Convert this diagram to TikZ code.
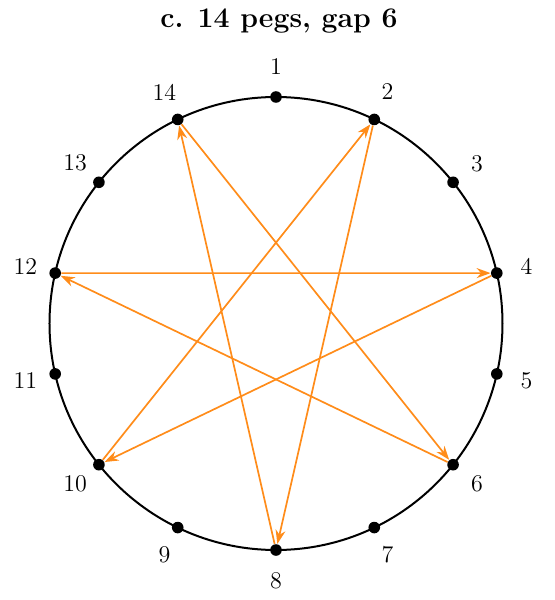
\documentclass[tikz,border=0pt]{standalone}
\usetikzlibrary{arrows.meta}
\definecolor{chord}{RGB}{255,140,26}
\begin{document}
\begin{tikzpicture}[
  peg/.style={circle,fill=black,inner sep=0pt,minimum size=5.8pt},
  lbl/.style={inner sep=0pt,font=\fontsize{12}{14}\selectfont},
  chordarrow/.style={draw=chord,line width=0.85pt,-{Stealth[length=7pt,width=5pt]}}]
\useasboundingbox (-138pt,-138.25pt) rectangle (139pt,161.75pt);
\node[font=\fontsize{14.2}{17}\selectfont\bfseries,anchor=base] (title) at (1.5pt,147.9pt) {c. 14 pegs, gap 6};
\draw[line width=1pt] (0,0) circle (113.25pt);
\foreach \i in {1,...,14} {
  \node[peg] (p\i) at ({90-(\i-1)*360/14}:113.25pt) {};
  \node[lbl] (l\i) at ({90-(\i-1)*360/14}:128.5pt) {\i};
}
\draw[chordarrow] (p12) -- (p4);
\draw[chordarrow] (p4) -- (p10);
\draw[chordarrow] (p10) -- (p2);
\draw[chordarrow] (p2) -- (p8);
\draw[chordarrow] (p8) -- (p14);
\draw[chordarrow] (p14) -- (p6);
\draw[chordarrow] (p6) -- (p12);
\end{tikzpicture}
\end{document}
